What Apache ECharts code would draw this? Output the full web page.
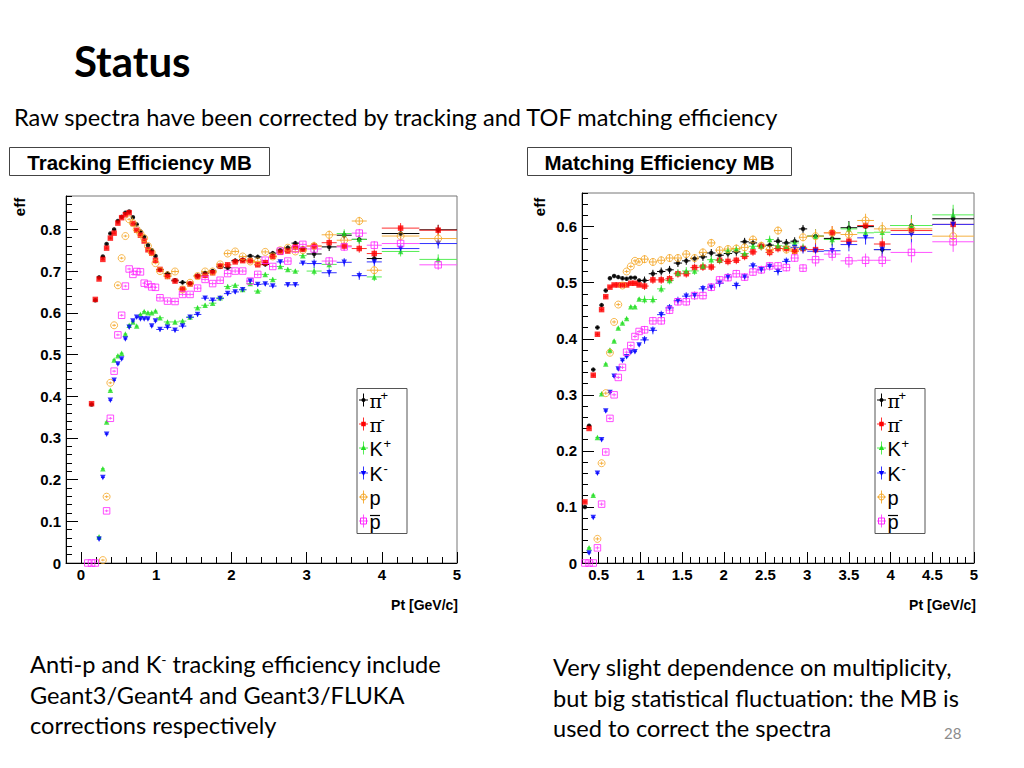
<!DOCTYPE html>
<html><head><meta charset="utf-8"><title>Status</title>
<script src="https://cdn.jsdelivr.net/npm/echarts@6.0.0/dist/echarts.min.js"></script>
<style>
html,body{margin:0;padding:0;background:#fff;}
#wrap{position:relative;width:1024px;height:768px;overflow:hidden;background:#fff;}
#chart{position:absolute;left:0;top:0;width:1024px;height:768px;}
.t{position:absolute;white-space:nowrap;color:#000;font-family:Lato,'Open Sans',sans-serif;z-index:2;}
.t sup{font-size:0.6em;vertical-align:0.6em;line-height:0;}
</style></head><body>
<div id="wrap">
<div id="chart"></div>
<div class="t" style="left:74px;top:36px;font-size:42px;line-height:50px;font-weight:bold;">Status</div>
<div class="t" style="left:14px;top:103px;font-size:23.6px;line-height:28px;">Raw spectra have been corrected by tracking and TOF matching efficiency</div>
<div class="t" style="left:30px;top:649px;font-size:23.6px;line-height:30.5px;">Anti-p and K<sup>-</sup> tracking efficiency include<br>Geant3/Geant4 and Geant3/FLUKA<br>corrections respectively</div>
<div class="t" style="left:553px;top:652px;font-size:23.6px;line-height:30.5px;">Very slight dependence on multiplicity,<br>but big statistical fluctuation: the MB is<br>used to correct the spectra</div>
<div class="t" style="left:944px;top:724px;font-size:15px;color:#8c8c8c;">28</div>
</div>
<script>
// ---------------- Tracking efficiency (left) ----------------
const trkX = [0.09,0.14,0.19,0.24,0.29,0.34,0.39,0.44,0.49,0.54,0.59,0.64,0.69,0.74,0.79,0.84,0.89,0.94,0.99,
  1.05,1.15,1.25,1.35,1.45,1.55,1.65,1.75,1.85,1.95,2.05,2.15,2.25,2.35,2.45,2.55,2.65,2.75,2.85,2.95,
  3.1,3.3,3.5,3.7,3.9,4.25,4.75];
const trkXErr = [0.025,0.025,0.025,0.025,0.025,0.025,0.025,0.025,0.025,0.025,0.025,0.025,0.025,0.025,0.025,0.025,0.025,0.025,0.025,
  0.05,0.05,0.05,0.05,0.05,0.05,0.05,0.05,0.05,0.05,0.05,0.05,0.05,0.05,0.05,0.05,0.05,0.05,0.05,0.05,
  0.1,0.1,0.1,0.1,0.1,0.25,0.25];
const trkYErr = [0.003,0.003,0.003,0.003,0.003,0.003,0.003,0.003,0.003,0.003,0.003,0.003,0.003,0.003,0.003,0.003,0.003,0.003,0.003,
  0.005,0.005,0.005,0.005,0.005,0.005,0.005,0.005,0.005,0.005,0.005,0.005,0.005,0.005,0.005,0.005,0.005,0.005,0.005,0.005,
  0.01,0.01,0.01,0.01,0.01,0.012,0.012];
const trkPiPlus = [null,0.38,0.63,0.685,0.735,0.765,0.79,0.80,0.82,0.83,0.84,0.843,0.829,0.812,0.795,0.782,0.762,0.75,0.736,
  0.704,0.694,0.678,0.673,0.670,0.689,0.695,0.700,0.710,0.708,0.725,0.727,0.736,0.734,0.716,0.743,0.750,0.756,0.767,0.754,
  0.741,0.758,0.786,0.776,0.730,0.790,0.799];
const trkPiMinus = [null,0.382,0.632,0.681,0.728,0.755,0.779,0.791,0.815,0.828,0.835,0.840,0.814,0.798,0.786,0.772,0.751,0.743,0.726,
  0.704,0.687,0.676,0.657,0.669,0.687,0.690,0.696,0.712,0.715,0.722,0.725,0.725,0.715,0.720,0.735,0.745,0.748,0.758,0.752,
  0.760,0.768,0.760,0.754,0.742,0.803,0.798];
const trkKPlus = [null,null,null,0.063,0.226,0.338,0.414,0.487,0.497,0.503,0.549,0.570,0.578,0.568,0.596,0.603,0.600,0.600,0.604,
  0.588,0.578,0.578,0.580,0.590,0.612,0.618,0.623,0.636,0.663,0.666,0.656,0.670,0.652,0.692,0.680,0.711,0.704,0.700,0.737,
  0.700,0.716,0.790,0.776,0.686,0.747,0.728];
const trkKMinus = [null,null,null,0.057,0.205,0.309,0.390,0.438,0.477,0.489,0.537,0.565,0.580,0.589,0.585,0.585,0.585,0.568,0.580,
  0.560,0.565,0.558,0.568,0.589,0.596,0.635,0.630,0.634,0.646,0.650,0.655,0.676,0.668,0.669,0.664,0.722,0.667,0.667,0.719,
  0.718,0.696,0.721,0.689,0.722,0.754,0.766];
const trkP = [null,null,null,null,0.007,0.159,0.432,0.570,0.666,0.731,0.784,0.824,0.815,0.800,0.790,0.779,0.760,0.745,0.719,
  0.700,0.690,0.699,0.656,0.672,0.688,0.699,0.699,0.716,0.742,0.747,0.735,0.723,0.723,0.746,0.735,0.750,0.756,0.747,0.750,
  0.760,0.787,0.774,0.820,0.702,0.784,0.778];
const trkPbar = [0,0,0,null,null,0.125,0.347,0.46,0.547,0.594,0.664,0.705,0.692,0.699,0.698,0.671,0.668,0.662,0.661,
  0.636,0.628,0.627,0.644,0.644,0.659,0.680,0.670,0.678,0.694,0.700,0.700,0.676,0.692,0.726,0.711,0.748,0.724,0.753,0.764,
  0.753,0.724,0.758,0.791,0.762,0.766,0.715];

// ---------------- Matching efficiency (right) ----------------
const matX = [0.335,0.385,0.435,0.485,0.535,0.585,0.635,0.685,0.735,0.785,0.835,0.885,0.935,0.985,
  1.05,1.15,1.25,1.35,1.45,1.55,1.65,1.75,1.85,1.95,2.05,2.15,2.25,2.35,2.45,2.55,2.65,2.75,2.85,2.95,
  3.1,3.3,3.5,3.7,3.9,4.25,4.75];
const matXErr = [0.025,0.025,0.025,0.025,0.025,0.025,0.025,0.025,0.025,0.025,0.025,0.025,0.025,0.025,
  0.05,0.05,0.05,0.05,0.05,0.05,0.05,0.05,0.05,0.05,0.05,0.05,0.05,0.05,0.05,0.05,0.05,0.05,0.05,0.05,
  0.1,0.1,0.1,0.1,0.1,0.25,0.25];
const matYErr = [0.003,0.003,0.003,0.003,0.003,0.003,0.003,0.003,0.003,0.003,0.003,0.003,0.003,0.003,
  0.007,0.007,0.007,0.007,0.007,0.007,0.007,0.007,0.007,0.007,0.007,0.007,0.007,0.007,0.007,0.007,0.007,0.007,0.007,0.007,
  0.012,0.012,0.012,0.012,0.012,0.018,0.018];
const matPiPlus = [0.100,0.245,0.345,0.420,0.460,0.486,0.508,0.512,0.510,0.508,0.507,0.509,0.509,0.504,
  0.504,0.516,0.520,0.523,0.535,0.539,0.543,0.546,0.553,0.549,0.552,0.555,0.573,0.571,0.565,0.567,0.574,0.571,0.574,0.596,
  0.583,0.579,0.598,0.600,0.559,0.602,0.614];
const matPiMinus = [0.109,0.240,0.335,0.408,0.452,0.475,0.492,0.496,0.496,0.496,0.496,0.499,0.499,0.496,
  0.494,0.505,0.505,0.507,0.516,0.516,0.527,0.528,0.528,0.540,0.538,0.540,0.547,0.555,0.565,0.554,0.561,0.561,0.556,0.561,
  0.559,0.589,0.574,0.602,0.569,0.593,0.604];
const matKPlus = [null,0.027,0.121,0.224,0.302,0.355,0.380,0.396,0.419,0.428,0.436,0.457,0.457,0.471,
  0.470,0.470,0.489,0.504,0.517,0.521,0.521,0.530,0.541,0.541,0.557,0.560,0.552,0.565,0.565,0.577,0.566,0.565,0.571,0.563,
  0.583,0.577,0.596,0.589,0.590,0.602,0.621];
const matKMinus = [null,0.018,0.081,0.160,0.220,0.271,0.304,0.333,0.346,0.361,0.368,0.376,0.377,0.389,
  0.398,0.415,0.443,0.455,0.468,0.476,0.477,0.489,0.492,0.499,0.510,0.495,0.510,0.530,0.523,0.529,0.520,0.538,0.563,0.559,
  0.556,0.557,0.568,0.580,0.559,0.586,0.604];
const matP = [null,null,null,0.043,0.178,0.303,0.375,0.430,0.461,0.495,0.520,0.529,0.539,0.537,
  0.542,0.537,0.540,0.544,0.544,0.551,0.544,0.554,0.571,0.558,0.560,0.561,0.563,0.577,0.566,0.559,0.593,0.559,0.558,0.581,
  0.583,0.589,0.586,0.611,0.596,0.596,0.583];
const matPbar = [0,0,0,0.027,0.105,0.198,0.258,0.300,0.331,0.349,0.376,0.388,0.404,0.413,
  0.416,0.432,0.432,0.451,0.466,0.466,0.477,0.477,0.492,0.505,0.509,0.516,0.510,0.519,0.523,0.530,0.530,0.527,0.544,0.526,
  0.541,0.551,0.539,0.540,0.540,0.554,0.573];

const trkYTicks = [0,0.1,0.2,0.3,0.4,0.5,0.6,0.7,0.8];
const trkXTicks = [0,1,2,3,4,5];
const matYTicks = [0,0.1,0.2,0.3,0.4,0.5,0.6];
const matXTicks = [0.5,1,1.5,2,2.5,3,3.5,4,4.5,5];
const legendLabels = ['π','π','K','K','p','p'];
const legendSups = ['+','-','+','-','',''];

// ---------------- styles ----------------
const species = [
  {name:'pi+', color:'#000000', symbol:'circle', size:4.5, filled:true},
  {name:'pi-', color:'#ff0000', symbol:'rect', size:5.5, filled:true},
  {name:'K+', color:'#22dd22', symbol:'triangle', size:5.5, filled:true},
  {name:'K-', color:'#0000ff', symbol:'triangle', size:5.5, filled:true, rotate:180},
  {name:'p', color:'#f5a623', symbol:'circle', size:7, filled:false},
  {name:'pbar', color:'#ff22ff', symbol:'rect', size:6.5, filled:false}
];
const barColors = ['#000000','#ff3030','#55ee55','#3333ff','#f5b040','#ff55ff'];

function pts(xs, ys, exs, eys) {
  const out = [];
  for (let i = 0; i < xs.length; i++) {
    if (ys[i] === null || ys[i] === undefined) continue;
    out.push([xs[i], ys[i], exs[i], eys[i]]);
  }
  return out;
}

function errRender(color) {
  return function (params, api) {
    const x = api.value(0), y = api.value(1), ex = api.value(2), ey = api.value(3);
    const c = api.coord([x, y]);
    const l = api.coord([x - ex, y]);
    const r = api.coord([x + ex, y]);
    const t = api.coord([x, y + ey]);
    const b = api.coord([x, y - ey]);
    return {
      type: 'group',
      children: [
        {type:'line', shape:{x1:l[0], y1:c[1], x2:r[0], y2:c[1]}, style:{stroke:color, lineWidth:1}},
        {type:'line', shape:{x1:c[0], y1:t[1], x2:c[0], y2:b[1]}, style:{stroke:color, lineWidth:1}}
      ]
    };
  };
}

const series = [];
function addPlot(xIdx, yIdx, xs, exs, eys, ysList) {
  ysList.forEach((ys, k) => {
    const sp = species[k];
    const data = pts(xs, ys, exs, eys);
    series.push({
      type:'custom', xAxisIndex:xIdx, yAxisIndex:yIdx, clip:true, silent:true,
      renderItem: errRender(barColors[k]), data: data, z: 2
    });
    series.push({
      type:'scatter', xAxisIndex:xIdx, yAxisIndex:yIdx, silent:true,
      symbol: sp.symbol, symbolSize: sp.size, symbolRotate: sp.rotate || 0,
      itemStyle: sp.filled ? {color: sp.color} : {color:'rgba(0,0,0,0)', borderColor: sp.color, borderWidth: 1},
      data: data.map(d => [d[0], d[1]]), z: 3
    });
  });
}
addPlot(0, 0, trkX, trkXErr, trkYErr, [trkPiPlus, trkPiMinus, trkKPlus, trkKMinus, trkP, trkPbar]);
addPlot(2, 2, matX, matXErr, matYErr, [matPiPlus, matPiMinus, matKPlus, matKMinus, matP, matPbar]);

const lblFont = {fontFamily:'Liberation Sans', fontWeight:'bold', fontSize:15, color:'#000'};

function majorX(grid, min, max, ticks) {
  return {
    gridIndex:grid, type:'value', min:min, max:max, position:'bottom',
    axisLine:{show:true, onZero:false, lineStyle:{color:'#000', width:1}},
    axisTick:{show:true, inside:true, length:11, customValues:ticks, lineStyle:{color:'#000'}},
    axisLabel:Object.assign({show:true, margin:4, customValues:ticks, formatter: v => String(v)}, lblFont),
    splitLine:{show:false}
  };
}
function minorX(grid, min, max, iv) {
  return {
    gridIndex:grid, type:'value', min:min, max:max, interval:iv, position:'bottom',
    axisLine:{show:false, onZero:false},
    axisTick:{show:true, inside:true, length:6, lineStyle:{color:'#000'}},
    axisLabel:{show:false}, splitLine:{show:false}
  };
}
function majorY(grid, min, max, ticks) {
  return {
    gridIndex:grid, type:'value', min:min, max:max, position:'left',
    axisLine:{show:true, onZero:false, lineStyle:{color:'#000', width:1}},
    axisTick:{show:true, inside:true, length:12, customValues:ticks, lineStyle:{color:'#000'}},
    axisLabel:Object.assign({show:true, margin:5, customValues:ticks, formatter: v => String(v)}, lblFont),
    splitLine:{show:false}
  };
}
function minorY(grid, min, max, iv) {
  return {
    gridIndex:grid, type:'value', min:min, max:max, interval:iv, position:'left',
    axisLine:{show:false, onZero:false},
    axisTick:{show:true, inside:true, length:6, lineStyle:{color:'#000'}},
    axisLabel:{show:false}, splitLine:{show:false}
  };
}

// ---------------- graphics: title boxes, legends, axis titles ----------------
const graphics = [];
function titleBox(x, y, w, h, text) {
  graphics.push({type:'rect', shape:{x:x, y:y, width:w, height:h}, style:{fill:'#fff', stroke:'#444', lineWidth:1}, z:10});
  graphics.push({type:'text', x:x + w/2, y:y + h/2 + 1, style:{text:text, fill:'#000', font:'bold 20.5px "Liberation Sans"', textAlign:'center', textVerticalAlign:'middle'}, z:11});
}
titleBox(9.5, 147.5, 260, 28, 'Tracking Efficiency MB');
titleBox(527.5, 147.5, 264, 28, 'Matching Efficiency MB');

function legendBox(x0) {
  graphics.push({type:'rect', shape:{x:x0 + 0.5, y:388.5, width:50, height:145}, style:{fill:'#fff', stroke:'#555', lineWidth:1}, z:10});
  const ys = [400, 424, 448, 473, 497, 521];
  ys.forEach((yc, k) => {
    const sp = species[k];
    const mx = x0 + 7;
    graphics.push({type:'line', shape:{x1:mx - 4.5, y1:yc, x2:mx + 4.5, y2:yc}, style:{stroke:barColors[k], lineWidth:1}, z:11});
    graphics.push({type:'line', shape:{x1:mx, y1:yc - 6.5, x2:mx, y2:yc + 6.5}, style:{stroke:barColors[k], lineWidth:1}, z:11});
    if (sp.symbol === 'circle') {
      graphics.push({type:'circle', shape:{cx:mx, cy:yc, r: sp.filled ? 2 : 3}, style: sp.filled ? {fill:sp.color} : {fill:'none', stroke:sp.color, lineWidth:1}, z:12});
    } else if (sp.symbol === 'rect') {
      const s = sp.filled ? 4.5 : 6;
      graphics.push({type:'rect', shape:{x:mx - s/2, y:yc - s/2, width:s, height:s}, style: sp.filled ? {fill:sp.color} : {fill:'none', stroke:sp.color, lineWidth:1}, z:12});
    } else {
      const d = sp.rotate ? -1 : 1;
      graphics.push({type:'polygon', shape:{points:[[mx, yc - 3*d],[mx - 2.7, yc + 2*d],[mx + 2.7, yc + 2*d]]}, style:{fill:sp.color}, z:12});
    }
    const isPi = legendLabels[k] === 'π';
    graphics.push({type:'text', x:x0 + 13, y:yc + 1, style:{text:legendLabels[k], fill:'#000',
      font: isPi ? '19px "DejaVu Serif"' : '20px "Liberation Sans"', textVerticalAlign:'middle'}, z:12});
    if (legendSups[k]) {
      graphics.push({type:'text', x:x0 + (isPi ? 24 : 27), y:yc - 5, style:{text:legendSups[k], fill:'#000', font:'13px "Liberation Sans"', textVerticalAlign:'middle'}, z:12});
    }
    if (k === 5) {
      graphics.push({type:'line', shape:{x1:x0 + 13.5, y1:yc - 5.5, x2:x0 + 23.5, y2:yc - 5.5}, style:{stroke:'#000', lineWidth:1.2}, z:12});
    }
  });
}
legendBox(356.5);
legendBox(874.5);

function axisTitles(xRight, effX) {
  graphics.push({type:'text', x:xRight, y:605, style:{text:'Pt [GeV/c]', fill:'#000', font:'bold 14px "Liberation Sans"', textAlign:'right', textVerticalAlign:'middle'}, z:10});
  graphics.push({type:'text', x:effX, y:207, rotation:Math.PI/2, style:{text:'eff', fill:'#000', font:'bold 15px "Liberation Sans"', textAlign:'center', textVerticalAlign:'middle'}, z:10});
}
axisTitles(458, 19);
axisTitles(976, 539);

const chart = echarts.init(document.getElementById('chart'), null, {renderer:'svg', width:1024, height:768});
chart.setOption({
  animation:false,
  backgroundColor:'#fff',
  grid:[
    {left:66, top:196, width:391, height:367, show:true, borderColor:'#777', borderWidth:1, backgroundColor:'rgba(0,0,0,0)'},
    {left:582, top:193, width:392, height:370, show:true, borderColor:'#777', borderWidth:1, backgroundColor:'rgba(0,0,0,0)'}
  ],
  xAxis:[
    majorX(0, -0.2, 5, trkXTicks),
    minorX(0, -0.2, 5, 0.2),
    majorX(1, 0.3, 5, matXTicks),
    minorX(1, 0.3, 5, 0.1)
  ],
  yAxis:[
    majorY(0, 0, 0.88, trkYTicks),
    minorY(0, 0, 0.88, 0.02),
    majorY(1, 0, 0.66, matYTicks),
    minorY(1, 0, 0.66, 0.02)
  ],
  series: series,
  graphic: graphics
});
</script>
</body></html>
